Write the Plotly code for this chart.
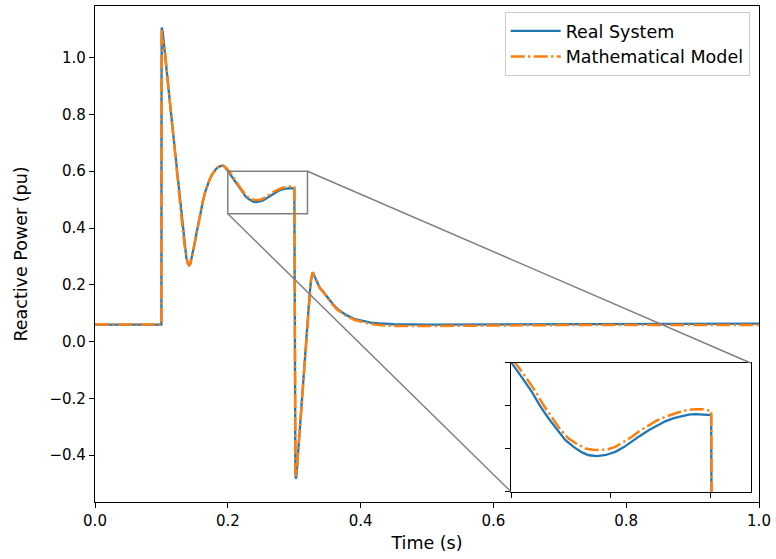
import plotly.graph_objects as go

# Reactive power response: measured system vs. mathematical model
t_real = [0.0, 0.1, 0.1002, 0.1005, 0.102, 0.105, 0.1076, 0.110, 0.1125, 0.1151,
          0.1175, 0.120, 0.1226, 0.125, 0.1275, 0.1301, 0.1325, 0.1351, 0.1375,
          0.140, 0.1416, 0.1435, 0.146, 0.149, 0.1527, 0.156, 0.1595, 0.1627,
          0.166, 0.1695, 0.1727, 0.176, 0.1795, 0.1827, 0.186, 0.190, 0.193,
          0.196, 0.2005, 0.2055, 0.2105, 0.2145, 0.2189, 0.223, 0.2272, 0.2315,
          0.2355, 0.239, 0.243, 0.2475, 0.2522, 0.2565, 0.2605, 0.2645, 0.2689,
          0.273, 0.2772, 0.2815, 0.2855, 0.289, 0.2922, 0.296, 0.3002, 0.3006,
          0.3010, 0.3018, 0.3025, 0.3035, 0.305, 0.3078, 0.3115, 0.3153, 0.318,
          0.3203, 0.3228, 0.3253, 0.3272, 0.3282, 0.331, 0.3345, 0.3385, 0.3428,
          0.353, 0.3578, 0.365, 0.378, 0.39, 0.403, 0.415, 0.428, 0.45, 0.5,
          0.6, 0.7, 0.8, 1.0]
q_real = [0.06, 0.06, 0.9, 1.106, 1.09, 1.03, 0.966, 0.908, 0.849, 0.790,
          0.732, 0.674, 0.615, 0.557, 0.497, 0.439, 0.384, 0.334, 0.296,
          0.274, 0.269, 0.274, 0.297, 0.334, 0.380, 0.421, 0.462, 0.497,
          0.527, 0.552, 0.571, 0.587, 0.600, 0.609, 0.615, 0.619, 0.619,
          0.614, 0.600, 0.583, 0.566, 0.550, 0.535, 0.522, 0.510, 0.502,
          0.4958, 0.4925, 0.4915, 0.4928, 0.4965, 0.502, 0.508, 0.515, 0.5217,
          0.527, 0.532, 0.5358, 0.5384, 0.5398, 0.5403, 0.540, 0.5392, 0.3,
          -0.35, -0.46, -0.483, -0.47, -0.42, -0.327, -0.21, -0.091, 0.0,
          0.086, 0.155, 0.216, 0.243, 0.244, 0.228, 0.207, 0.190, 0.178,
          0.146, 0.1336, 0.115, 0.094, 0.080, 0.072, 0.067, 0.064, 0.061, 0.060,
          0.061, 0.062, 0.063, 0.063]

t_model = [0.0, 0.1, 0.1002, 0.1005, 0.1009, 0.1013, 0.102, 0.105, 0.1076, 0.110,
           0.1125, 0.1151, 0.1175, 0.120, 0.1226, 0.125, 0.1275, 0.1301, 0.1325,
           0.1351, 0.1375, 0.140, 0.1416, 0.1435, 0.146, 0.149, 0.1527, 0.156,
           0.1595, 0.1627, 0.166, 0.1695, 0.1727, 0.176, 0.1795, 0.1827, 0.186,
           0.190, 0.193, 0.196, 0.2022, 0.2072, 0.2122, 0.2162, 0.2205, 0.2245,
           0.2288, 0.233, 0.2372, 0.241, 0.2447, 0.2485, 0.2522, 0.2565, 0.2605,
           0.2645, 0.2689, 0.273, 0.2772, 0.2815, 0.2855, 0.289, 0.2922, 0.296,
           0.3002, 0.3006, 0.3010, 0.3018, 0.3027, 0.3037, 0.305, 0.3078, 0.3115,
           0.3153, 0.318, 0.3203, 0.3228, 0.3253, 0.3272, 0.3282, 0.331, 0.3345,
           0.3385, 0.3428, 0.353, 0.3578, 0.365, 0.378, 0.39, 0.403, 0.415, 0.428,
           0.45, 0.5, 0.55, 0.6, 0.7, 0.8, 1.0]
q_model = [0.06, 0.06, 0.9, 1.10, 0.975, 1.05, 1.06, 1.03, 0.966, 0.908,
           0.849, 0.790, 0.732, 0.674, 0.615, 0.557, 0.497, 0.439, 0.384,
           0.334, 0.296, 0.274, 0.269, 0.274, 0.297, 0.334, 0.380, 0.421,
           0.462, 0.497, 0.527, 0.552, 0.571, 0.587, 0.600, 0.610, 0.616,
           0.620, 0.620, 0.615, 0.600, 0.584, 0.567, 0.551, 0.536, 0.523,
           0.512, 0.5055, 0.5004, 0.4988, 0.4985, 0.4996, 0.5023, 0.508, 0.514,
           0.521, 0.5276, 0.533, 0.5372, 0.541, 0.5438, 0.5455, 0.5462, 0.546,
           0.5442, 0.3, -0.35, -0.455, -0.474, -0.462, -0.415, -0.325, -0.205,
           -0.087, 0.005, 0.09, 0.158, 0.218, 0.240, 0.241, 0.226, 0.205,
           0.188, 0.177, 0.144, 0.131, 0.112, 0.091, 0.077, 0.068, 0.062, 0.058,
           0.055, 0.055, 0.056, 0.057, 0.058, 0.058, 0.058]

# Axis settings
x_range = [0.0, 1.0]
y_range = [-0.565, 1.182]
x_ticks = [0.0, 0.2, 0.4, 0.6, 0.8, 1.0]
y_ticks = [-0.4, -0.2, 0.0, 0.2, 0.4, 0.6, 0.8, 1.0]

# Zoomed window
zoom_x = [0.2, 0.32]
zoom_y = [0.45, 0.6]
zoom_x_ticks = [0.2, 0.25, 0.3]
zoom_y_ticks = [0.45, 0.5, 0.55, 0.6]
inset_dom_x = [0.6266, 0.9875]
inset_dom_y = [0.0207, 0.2803]

BLUE = "#1f77b4"
ORANGE = "#ff7f0e"
GREY = "#808080"
FONT = "DejaVu Sans"
DASHDOT = "14px,3.4px,2.2px,3.4px"
TICK_SIZE = 15
LABEL_SIZE = 17.5

fig = go.Figure()

for xa, ya, show in (("x", "y", True), ("x2", "y2", False)):
    fig.add_trace(go.Scatter(
        x=t_real, y=q_real, mode="lines", name="Real System",
        line=dict(color=BLUE, width=2.3), xaxis=xa, yaxis=ya,
        showlegend=show, legendgroup="real"))
    fig.add_trace(go.Scatter(
        x=t_model, y=q_model, mode="lines", name="Mathematical Model",
        line=dict(color=ORANGE, width=2.5, dash=DASHDOT), xaxis=xa, yaxis=ya,
        showlegend=show, legendgroup="model"))

axis_common = dict(showgrid=False, zeroline=False, showline=True, linecolor="black",
                   linewidth=1.2, mirror=True, ticks="outside", ticklen=5,
                   tickwidth=1.2, tickcolor="black",
                   tickfont=dict(family=FONT, size=TICK_SIZE, color="black"))

fig.update_layout(
    width=776, height=559,
    margin=dict(l=95, r=15, t=5, b=57),
    paper_bgcolor="white", plot_bgcolor="white",
    font=dict(family=FONT, size=TICK_SIZE, color="black"),
    xaxis=dict(range=x_range, tickvals=x_ticks, tickformat=".1f",
               title=dict(text="Time (s)", standoff=7,
                          font=dict(family=FONT, size=LABEL_SIZE)), **axis_common),
    yaxis=dict(range=y_range, tickvals=y_ticks, tickformat=".1f",
               title=dict(text="Reactive Power (pu)", standoff=17,
                          font=dict(family=FONT, size=LABEL_SIZE)), **axis_common),
    xaxis2=dict(domain=inset_dom_x, anchor="y2", range=zoom_x, tickvals=zoom_x_ticks,
                showticklabels=False, **axis_common),
    yaxis2=dict(domain=inset_dom_y, anchor="x2", range=zoom_y, tickvals=zoom_y_ticks,
                showticklabels=False, **axis_common),
    legend=dict(x=0.986, y=0.988, xanchor="right", yanchor="top",
                bgcolor="rgba(255,255,255,0.8)", bordercolor="#cccccc", borderwidth=1,
                font=dict(family=FONT, size=LABEL_SIZE), traceorder="grouped",
                tracegroupgap=0, itemwidth=50),
)

# Rectangle marking the zoomed window on the main axes
fig.add_shape(type="rect", xref="x", yref="y", x0=zoom_x[0], x1=zoom_x[1],
              y0=zoom_y[0], y1=zoom_y[1], line=dict(color=GREY, width=1.5))


def to_paper(x, y):
    px = (x - x_range[0]) / (x_range[1] - x_range[0])
    py = (y - y_range[0]) / (y_range[1] - y_range[0])
    return px, py


# Connector lines: upper-right and lower-left corners
ur = to_paper(zoom_x[1], zoom_y[1])
ll = to_paper(zoom_x[0], zoom_y[0])
fig.add_shape(type="line", xref="paper", yref="paper", x0=ur[0], y0=ur[1],
              x1=inset_dom_x[1], y1=inset_dom_y[1], line=dict(color=GREY, width=1.5))
fig.add_shape(type="line", xref="paper", yref="paper", x0=ll[0], y0=ll[1],
              x1=inset_dom_x[0], y1=inset_dom_y[0], line=dict(color=GREY, width=1.5))

fig.write_html("out.html")
